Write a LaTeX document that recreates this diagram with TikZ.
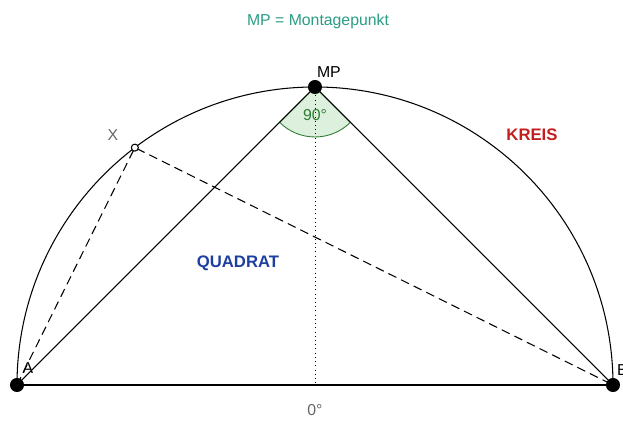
\documentclass[tikz,border=0pt]{standalone}
\usepackage{fontspec}
\setmainfont{Liberation Sans}
\usetikzlibrary{positioning, calc}
\definecolor{mTeal}{HTML}{2A9D84}
\definecolor{mRed}{HTML}{C41E1E}
\definecolor{mBlue}{HTML}{1F3FA0}
\definecolor{mGreen}{HTML}{2E7D32}
\definecolor{mLight}{HTML}{DDF0DD}
\definecolor{mGray}{HTML}{666666}
\begin{document}
\begin{tikzpicture}[
  x=0.02cm, y=0.02cm,
  txt/.style={font=\fontsize{9}{11}\selectfont, inner sep=1pt},
  pt/.style={circle, fill=black, inner sep=0pt, minimum size=8pt},
  hollow/.style={circle, draw=black, fill=white, inner sep=0pt, minimum size=4pt, line width=0.6pt},
  edge/.style={line width=0.6pt},
]
  \useasboundingbox (0,0) rectangle (623,421);
  % semicircle and base
  \coordinate (O) at (315,36);
  \draw[edge] (613,36) arc[start angle=0, end angle=180, radius=298];
  \draw[edge] (17,36) -- (613,36);
  % angle at MP
  \coordinate (M) at (315,334);
  \draw[mGreen, fill=mLight, line width=0.5pt] (M) -- ++(225:50) arc[start angle=225, end angle=315, radius=50] -- cycle;
  % lines
  \coordinate (Xc) at ($(O)+(127.2:298)$);
  \draw[thin, dotted] (M) -- (O);
  \draw[edge] (17,36) -- (M) -- (613,36);
  \draw[edge, dash pattern=on 5pt off 3pt] (17,36) -- (Xc) -- (613,36);
  % points
  \node[pt] (A) at (17,36) {};
  \node[pt] (B) at (613,36) {};
  \node[pt] (MP) at (M) {};
  \node[hollow] (X) at (Xc) {};
  % labels
  \node[txt, above right=1pt and -3pt of MP] {MP};
  \node[txt, text=mGray] at (113,286) {X};
  \node[txt] at (28,53) {A};
  \node[txt, anchor=west] at (615,51) {B};
  \node[txt, text=mGreen] at (315,306) {90°};
  \node[txt, text=mGray] at (315,11) {0°};
  \node[txt, text=mTeal] at (318,400) {MP = Montagepunkt};
  \node[txt, text=mRed, font=\fontsize{9.5}{11}\bfseries] at (532,286) {KREIS};
  \node[txt, text=mBlue, font=\fontsize{9.5}{11}\bfseries] at (238,158) {QUADRAT};
\end{tikzpicture}
\end{document}
